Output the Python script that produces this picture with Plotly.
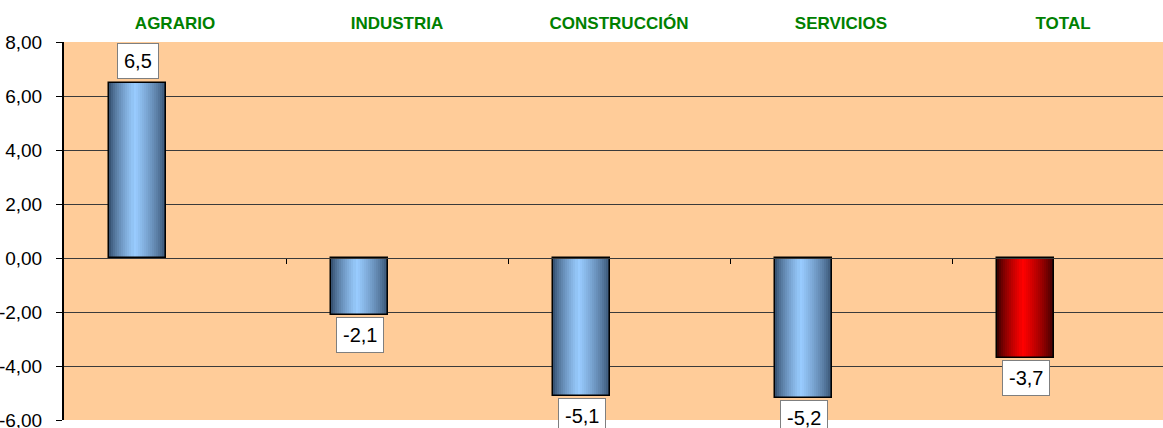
import plotly.graph_objects as go

# datos
sectores = ["AGRARIO", "INDUSTRIA", "CONSTRUCCIÓN", "SERVICIOS", "TOTAL"]
variacion = [6.5, -2.1, -5.1, -5.2, -3.7]
etiquetas = ["6,5", "-2,1", "-5,1", "-5,2", "-3,7"]
es_total = [False, False, False, False, True]
y_ticks = [-6, -4, -2, 0, 2, 4, 6, 8]
y_ticktext = ["-6,00", "-4,00", "-2,00", "0,00", "2,00", "4,00", "6,00", "8,00"]

y_min, y_max = -6, 8
pos = list(range(len(sectores)))

# geometria de la barra (fraccion de categoria)
ANCHO = 0.257
DESPL = -0.297
N = 28


def mezcla(c1, c2, t):
    return "rgb(%d,%d,%d)" % tuple(round(a + (b - a) * t) for a, b in zip(c1, c2))


def perfil(t):
    # brillo del degradado cilindrico
    if t < 0.45:
        return (t / 0.45) ** 0.7
    return ((1 - t) / 0.55) ** 0.7


azul_osc, azul_clar = (45, 70, 100), (153, 204, 255)
rojo_osc, rojo_clar = (40, 0, 0), (255, 0, 0)

fig = go.Figure()

for k in range(N):
    t = (k + 0.5) / N
    p = perfil(t)
    colores = [mezcla(rojo_osc, rojo_clar, p) if tot else mezcla(azul_osc, azul_clar, p)
               for tot in es_total]
    fig.add_trace(go.Bar(
        x=pos, y=variacion,
        width=ANCHO / N * 1.08, offset=DESPL + k * ANCHO / N,
        marker=dict(color=colores, line_width=0),
        showlegend=False, hoverinfo="skip",
    ))

# contorno de las barras (en el eje del cero)
fig.add_trace(go.Bar(
    x=pos, y=variacion, xaxis="x2",
    width=ANCHO, offset=DESPL,
    marker=dict(color="rgba(0,0,0,0)", line=dict(color="black", width=1.5)),
    showlegend=False, hoverinfo="skip",
))

for i, v in enumerate(variacion):
    fig.add_annotation(
        x=pos[i] + DESPL + ANCHO / 2, y=v,
        text=etiquetas[i], showarrow=False,
        yanchor="bottom" if v >= 0 else "top",
        yshift=4 if v >= 0 else -2,
        font=dict(family="Liberation Sans, Arial", size=20, color="black"),
        bgcolor="white", bordercolor="#7f7f7f", borderwidth=1, borderpad=6,
    )

xr = [-0.5, -0.5 + 1099 / 222]

fig.update_layout(
    width=1163, height=428,
    margin=dict(l=64, r=0, t=42, b=8),
    paper_bgcolor="white", plot_bgcolor="#ffcc99",
    barmode="overlay", bargap=0,
    font=dict(family="Liberation Sans, Arial", color="black"),
    xaxis=dict(
        side="top", range=xr, tickvals=pos, ticktext=sectores,
        tickfont=dict(size=17, color="#008000", family="Liberation Sans, Arial",
                      weight="bold"),
        showgrid=False, zeroline=False, showline=False, ticks="",
        ticklabelstandoff=9, automargin=False,
    ),
    xaxis2=dict(
        overlaying="x", anchor="free",
        position=(0 - y_min) / (y_max - y_min),
        range=xr, tickvals=[p + 0.5 for p in pos[:-1]],
        ticks="outside", ticklen=5, tickcolor="black", tickwidth=1,
        showticklabels=False, showgrid=False, zeroline=False,
        showline=True, linecolor="#3a3a3a", linewidth=1, automargin=False,
    ),
    yaxis=dict(
        range=[y_min, y_max], tickvals=y_ticks, ticktext=y_ticktext,
        tickfont=dict(size=19, color="black"),
        ticklabeloverflow="allow",
        showgrid=True, gridcolor="#3a3a3a", gridwidth=1,
        zeroline=False, showline=True, linecolor="black", linewidth=2,
        ticks="outside", ticklen=6, tickcolor="black",
        ticklabelstandoff=10, automargin=False,
    ),
)

# quitar el margen por defecto del body
fig.write_html("out.html", config={"displayModeBar": False},
               post_script="document.body.style.margin='0px';")
